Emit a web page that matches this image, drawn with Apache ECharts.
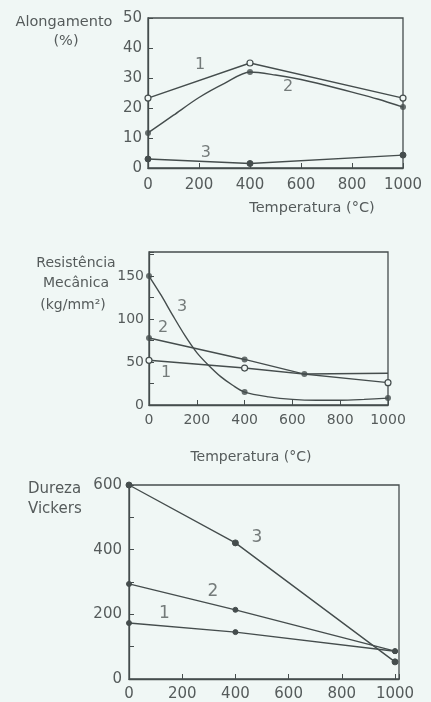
<!DOCTYPE html>
<html><head><meta charset="utf-8">
<script src="https://cdn.jsdelivr.net/npm/echarts@6/dist/echarts.min.js"></script>
<style>html,body{margin:0;padding:0;background:#f0f7f5}#c{width:431px;height:702px}</style>
</head><body><div id="c"></div>
<script>
// ---------- Chart 1: Alongamento (%) ----------
const along1 = [[0, 23.3], [400, 35], [1000, 23.3]];
const along2Curve = [[0, 11.7], [100, 17.6], [200, 23.5], [300, 28.2], [400, 32], [500, 31], [600, 29.5], [700, 27.5], [800, 25.3], [900, 23], [1000, 20.3]];
const along2Marks = [[0, 11.7], [400, 32], [1000, 20.3]];
const along3 = [[0, 3], [400, 1.5], [1000, 4.3]];
const alongTags = [['1', 204, 34.3], ['2', 549, 27], ['3', 227, 5]];

// ---------- Chart 2: Resistência Mecânica (kg/mm²) ----------
const resist1 = [[0, 52], [400, 43], [1000, 26]];
const resist2 = [[0, 78], [400, 53], [650, 36], [1000, 37]];
const resist2Marks = [[0, 78], [400, 53], [650, 36]];
const resist3Curve = [[0, 150], [50, 128], [100, 104], [150, 81], [200, 61], [250, 46], [300, 33], [350, 23], [400, 15], [500, 9.5], [600, 6.5], [700, 5.5], [800, 5.5], [900, 6.5], [1000, 8]];
const resist3Marks = [[0, 150], [400, 15], [1000, 8]];
const resistTags = [['1', 71, 37], ['2', 59, 90], ['3', 138, 114]];

// ---------- Chart 3: Dureza Vickers ----------
const dur1 = [[0, 173], [400, 145], [1000, 86]];
const dur2 = [[0, 294], [400, 214], [1000, 86]];
const dur3 = [[0, 600], [400, 421], [1000, 53]];
const durTags = [['1', 133, 201], ['2', 315, 269], ['3', 481, 437]];

const INK = '#454d4d';
const TXT = '#555b5b';
const FONT = 'DejaVu Sans';

function xAxis(gi, max, fs, margin) {
  return {
    type: 'value', gridIndex: gi, min: 0, max: max, interval: 200,
    axisLine: {show: true, lineStyle: {color: INK, width: 1.3}},
    axisTick: {show: true, inside: true, length: 5, lineStyle: {color: INK}},
    splitLine: {show: false},
    axisLabel: {color: TXT, fontFamily: FONT, fontSize: fs, margin: margin,
      formatter: v => (v % 200 === 0 ? String(v) : '')}
  };
}
function yAxis(gi, max, interval, labelStep, fs, margin) {
  return {
    type: 'value', gridIndex: gi, min: 0, max: max, interval: interval,
    axisLine: {show: true, lineStyle: {color: INK, width: 1.3}},
    axisTick: {show: true, inside: true, length: 5, lineStyle: {color: INK}},
    splitLine: {show: false},
    axisLabel: {color: TXT, fontFamily: FONT, fontSize: fs, margin: margin,
      formatter: v => (v % labelStep === 0 ? String(v) : '')}
  };
}
function line(gi, data, opts) {
  return Object.assign({
    type: 'line', xAxisIndex: gi, yAxisIndex: gi, data: data,
    symbol: 'circle', symbolSize: 6, showSymbol: true,
    lineStyle: {color: INK, width: 1.4},
    itemStyle: {color: INK, borderColor: INK, borderWidth: 1},
    animation: false, silent: true, z: 3
  }, opts || {});
}
function openLine(gi, data) {
  return line(gi, data, {itemStyle: {color: '#f0f7f5', borderColor: INK, borderWidth: 1.2}});
}
function curve(gi, data) {
  return line(gi, data, {symbol: 'none', smooth: 0.3});
}
function marks(gi, data, size) {
  return {type: 'scatter', xAxisIndex: gi, yAxisIndex: gi, data: data, symbolSize: size || 6,
    itemStyle: {color: INK}, animation: false, silent: true, z: 4};
}
function tags(gi, t, fs) {
  return {type: 'scatter', xAxisIndex: gi, yAxisIndex: gi, symbolSize: 0,
    data: t.map(d => ({name: d[0], value: [d[1], d[2]]})),
    label: {show: true, position: 'inside', formatter: '{b}', color: TXT, fontFamily: FONT, fontSize: fs},
    animation: false, silent: true, z: 5};
}
function txt(text, x, y, fs, align) {
  return {type: 'text', x: x, y: y,
    style: {text: text, fill: TXT, font: fs + 'px "' + FONT + '"', align: align || 'center', verticalAlign: 'middle'}};
}

const gridStyle = {show: true, borderColor: INK, borderWidth: 1.3, backgroundColor: 'transparent'};

const option = {
  backgroundColor: '#f0f7f5',
  animation: false,
  grid: [
    Object.assign({left: 148, top: 18, width: 255, height: 150}, gridStyle),
    Object.assign({left: 149, top: 252, width: 239, height: 153}, gridStyle),
    Object.assign({left: 129, top: 485, width: 270, height: 195}, gridStyle)
  ],
  xAxis: [xAxis(0, 1000, 15, 10), xAxis(1, 1000, 14, 8), xAxis(2, 1015, 15, 8)],
  yAxis: [yAxis(0, 50, 10, 10, 15, 6), yAxis(1, 178, 25, 50, 14, 5), yAxis(2, 600, 100, 200, 15, 7)],
  series: [
    openLine(0, along1),
    curve(0, along2Curve),
    marks(0, along2Marks),
    line(0, along3),
    tags(0, alongTags, 16),

    openLine(1, resist1),
    line(1, resist2, {symbol: 'none'}),
    marks(1, resist2Marks),
    curve(1, resist3Curve),
    marks(1, resist3Marks),
    tags(1, resistTags, 16),

    line(2, dur1, {symbolSize: 5}),
    line(2, dur2, {symbolSize: 5}),
    line(2, dur3, {symbolSize: 6}),
    tags(2, durTags, 17)
  ],
  graphic: [
    txt('Alongamento', 64, 22, 14.5),
    txt('(%)', 66, 41, 14.5),
    txt('Temperatura (°C)', 312, 208, 14.5),
    txt('Resistência', 76, 263, 14),
    txt('Mecânica', 76, 283, 14),
    txt('(kg/mm²)', 73, 305, 14),
    txt('Temperatura (°C)', 251, 457, 14),
    txt('Dureza', 28, 489, 15, 'left'),
    txt('Vickers', 28, 509, 15, 'left')
  ]
};
const chart = echarts.init(document.getElementById('c'), null, {renderer: 'canvas'});
chart.setOption(option);
</script>
</body></html>
